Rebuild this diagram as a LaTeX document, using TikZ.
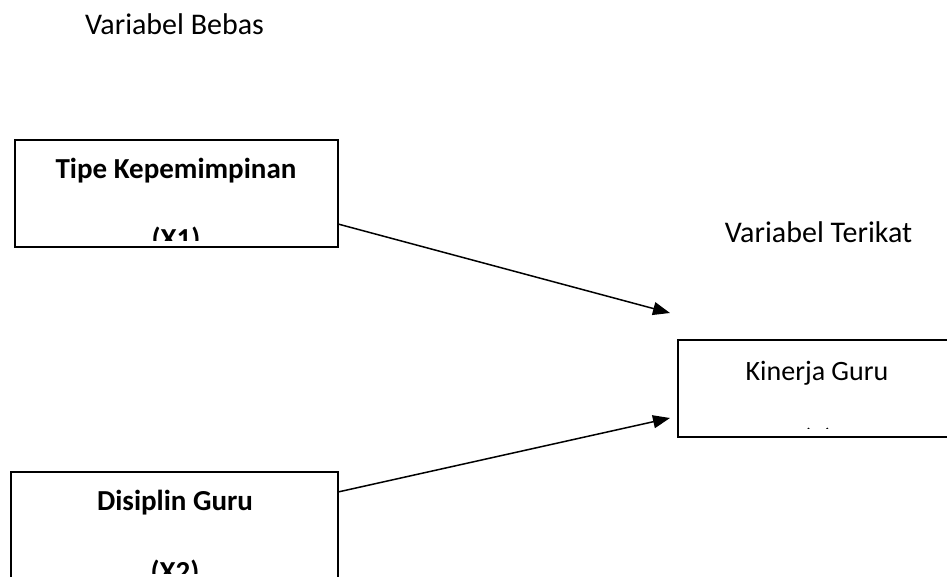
\documentclass[tikz,border=0pt]{standalone}
\usepackage{fontspec}
\setmainfont{Carlito}
\usetikzlibrary{arrows.meta}
\begin{document}
\begin{tikzpicture}[x=1pt,y=-1pt,
  boxframe/.style={draw=black,line width=1.4pt,inner sep=0pt,outer sep=0pt,anchor=north west},
  lbl/.style={font=\fontsize{28}{34}\selectfont,anchor=base,inner sep=0pt},
  flbl/.style={font=\fontsize{30}{36}\selectfont,anchor=base,inner sep=0pt},
  blbl/.style={font=\fontsize{29}{35}\selectfont\bfseries,anchor=base,inner sep=0pt},
  conn/.style={line width=1.5pt,-{Triangle[length=17pt,width=13pt]}}]
\useasboundingbox (0,0) rectangle (947,577);
% boxes
\node[boxframe,minimum width=323pt,minimum height=107pt] (b1) at (15,140) {};
\node[boxframe,minimum width=327pt,minimum height=130pt] (b2) at (11,472) {};
\node[boxframe,minimum width=280pt,minimum height=97pt] (b3) at (678,340) {};
% free labels
\node[flbl] (vb) at (174.5,35) {Variabel Bebas};
\node[flbl] (vt) at (818.5,243) {Variabel Terikat};
% box texts
\node[blbl] (t1) at (176,179) {Tipe Kepemimpinan};
\begin{scope}
\clip (15,140) rectangle (338,241);
\node[blbl] (t1b) at (176,249) {(X1)};
\end{scope}
\node[blbl] (t2) at (175,510) {Disiplin Guru};
\begin{scope}
\clip (11,472) rectangle (338,573);
\node[blbl] (t2b) at (175,581) {(X2)};
\end{scope}
\node[lbl] (t3) at (817,380) {Kinerja Guru};
\begin{scope}
\clip (678,340) rectangle (947,428.5);
\node[lbl] (t3b) at (818,448) {(Y)};
\end{scope}
% connectors
\coordinate (s1) at (338,224);
\coordinate (e1) at (670,313);
\coordinate (s2) at (338,492);
\coordinate (e2) at (670,418);
\draw[conn] (s1) -- (e1);
\draw[conn] (s2) -- (e2);
\end{tikzpicture}
\end{document}
